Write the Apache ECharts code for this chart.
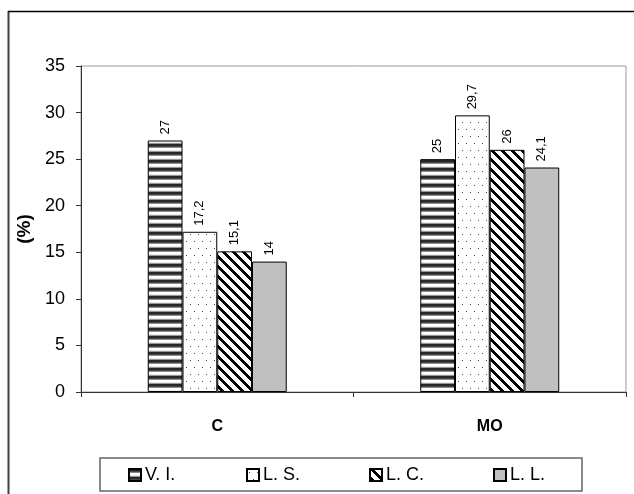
<!DOCTYPE html>
<html>
<head>
<meta charset="utf-8">
<script src="https://cdn.jsdelivr.net/npm/echarts@6/dist/echarts.min.js"></script>
<style>
html,body{margin:0;padding:0;background:#fff;}
#chart{width:634px;height:494px;}
</style>
</head>
<body>
<div id="chart"></div>
<script>
const categories = ['C', 'MO'];
const seriesNames = ['V. I.', 'L. S.', 'L. C.', 'L. L.'];
const viValues = [27, 25];
const lsValues = [17.2, 29.7];
const lcValues = [15.1, 26];
const llValues = [14, 24.1];
const yTicks = [0, 5, 10, 15, 20, 25, 30, 35];

const FONT = '"Liberation Sans", Arial, sans-serif';

function makeTile(w, h, fn) {
  const c = document.createElement('canvas');
  c.width = w; c.height = h;
  const ctx = c.getContext('2d');
  const img = ctx.createImageData(w, h);
  for (let y = 0; y < h; y++) {
    for (let x = 0; x < w; x++) {
      const v = fn(x, y);
      const i = (y * w + x) * 4;
      img.data[i] = v; img.data[i + 1] = v; img.data[i + 2] = v; img.data[i + 3] = 255;
    }
  }
  ctx.putImageData(img, 0, 0);
  return c;
}

// horizontal stripes
const stripeRows = [40, 40, 70, 140, 255, 255, 235, 150];
const hStripe = makeTile(8, 8, (x, y) => stripeRows[y]);
// dots
const dots = makeTile(8, 14, (x, y) => ((x === 2 && y === 3) || (x === 6 && y === 10)) ? 70 : 255);
// diagonal "\"
const diag = makeTile(10, 10, (x, y) => {
  const d = ((x - y) % 10 + 10) % 10;
  return d < 4 ? 0 : 255;
});

const fills = [
  { image: hStripe, repeat: 'repeat' },
  { image: dots, repeat: 'repeat' },
  { image: diag, repeat: 'repeat' },
  '#c0c0c0'
];
const valueSets = [viValues, lsValues, lcValues, llValues];

const series = seriesNames.map((name, k) => ({
  name: name,
  type: 'bar',
  data: valueSets[k],
  barGap: '0%',
  barCategoryGap: '49%',
  itemStyle: { color: fills[k], borderColor: '#000', borderWidth: 1 },
  label: {
    show: true,
    position: 'top',
    rotate: 90,
    align: 'left',
    verticalAlign: 'middle',
    distance: 6,
    fontSize: 13,
    fontFamily: FONT,
    color: '#000',
    formatter: p => String(p.value).replace('.', ',')
  },
  emphasis: { disabled: true }
}));

const legendLefts = [128, 246, 369, 493];
const legends = seriesNames.map((name, k) => ({
  data: [name],
  left: legendLefts[k],
  top: 466,
  padding: 0,
  itemWidth: 12,
  itemHeight: 12,
  icon: 'rect',
  selectedMode: false,
  textStyle: { fontSize: 18, fontFamily: FONT, color: '#000', lineHeight: 18, padding: [0, 0, 0, -1] }
}));

const chart = echarts.init(document.getElementById('chart'));
chart.setOption({
  animation: false,
  backgroundColor: '#fff',
  grid: { left: 81, right: 8, top: 66, bottom: 102, show: true, borderColor: '#999', borderWidth: 1 },
  legend: legends,
  xAxis: {
    type: 'category',
    data: categories,
    axisLine: { lineStyle: { color: '#333', width: 1 } },
    axisTick: { show: true, length: 5, lineStyle: { color: '#333' } },
    axisLabel: { fontSize: 16, fontWeight: 'bold', fontFamily: FONT, color: '#000', margin: 27 }
  },
  yAxis: {
    type: 'value',
    min: yTicks[0],
    max: yTicks[yTicks.length - 1],
    interval: 5,
    name: '(%)',
    nameLocation: 'middle',
    nameGap: 47,
    nameTextStyle: { fontSize: 19, fontWeight: 'bold', fontFamily: FONT, color: '#000' },
    axisLine: { show: true, lineStyle: { color: '#333', width: 1 } },
    axisTick: { show: true, length: 5, lineStyle: { color: '#333' } },
    splitLine: { show: false },
    axisLabel: { fontSize: 18, fontFamily: FONT, color: '#000', margin: 16 }
  },
  series: series,
  graphic: [
    { type: 'line', shape: { x1: 8.5, y1: 11, x2: 8.5, y2: 494 }, style: { stroke: '#404040', lineWidth: 2 } },
    { type: 'line', shape: { x1: 8, y1: 11.5, x2: 634, y2: 11.5 }, style: { stroke: '#000', lineWidth: 1.5 } },
    { type: 'rect', shape: { x: 100, y: 458, width: 482, height: 33 }, style: { fill: 'none', stroke: '#666', lineWidth: 1.5 } }
  ]
});
</script>
</body>
</html>
